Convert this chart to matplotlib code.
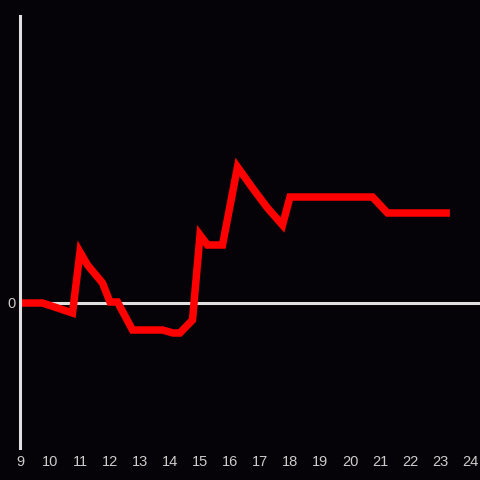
import matplotlib.pyplot as plt

# hours of the day and the value at each point
hours = [9.0, 9.75, 10.75, 11.0, 11.25, 11.75, 12.0, 12.25, 12.75, 13.75, 14.1,
         14.33, 14.75, 15.0, 15.25, 15.75, 16.25, 16.75, 17.25, 17.75, 18.0,
         20.75, 21.25, 23.33]
values = [0.0, 0.0, -1.0, 5.1, 3.8, 2.0, 0.1, 0.1, -2.7, -2.7, -3.0,
          -3.0, -1.7, 6.8, 5.8, 5.8, 13.6, 11.5, 9.5, 7.8, 10.6,
          10.6, 9.0, 9.0]
xticks = list(range(9, 25))

bg = '#050307'
axis_color = '#e0e0e0'

fig = plt.figure(figsize=(4.8, 4.8), dpi=100, facecolor=bg)
ax = fig.add_axes([20 / 480, 32 / 480, 460 / 480, 432 / 480], facecolor=bg)

# zero line
ax.axhline(0, color=axis_color, lw=2.2, zorder=1)
# red series
ax.plot(hours, values, color='#ff0000', lw=5.4, zorder=2,
        solid_joinstyle='miter', solid_capstyle='butt')

ax.set_xlim(9, 24 + 1 / 3)
ax.set_ylim(-14.5, 28.7)

for s in ['top', 'right', 'bottom']:
    ax.spines[s].set_visible(False)
ax.spines['left'].set_color(axis_color)
ax.spines['left'].set_linewidth(2.2)
ax.spines['left'].set_zorder(3)

ax.set_xticks(xticks)
ax.set_xticklabels([str(t) for t in xticks])
ax.set_yticks([0])
ax.set_yticklabels(['0'])
ax.tick_params(axis='both', length=0, colors='#cccccc', labelsize=10.5)
ax.tick_params(axis='x', pad=5)
ax.tick_params(axis='y', pad=3)
for lab in ax.get_xticklabels() + ax.get_yticklabels():
    lab.set_fontfamily('Liberation Sans')

fig.savefig('out.png', dpi=100, facecolor=bg)
